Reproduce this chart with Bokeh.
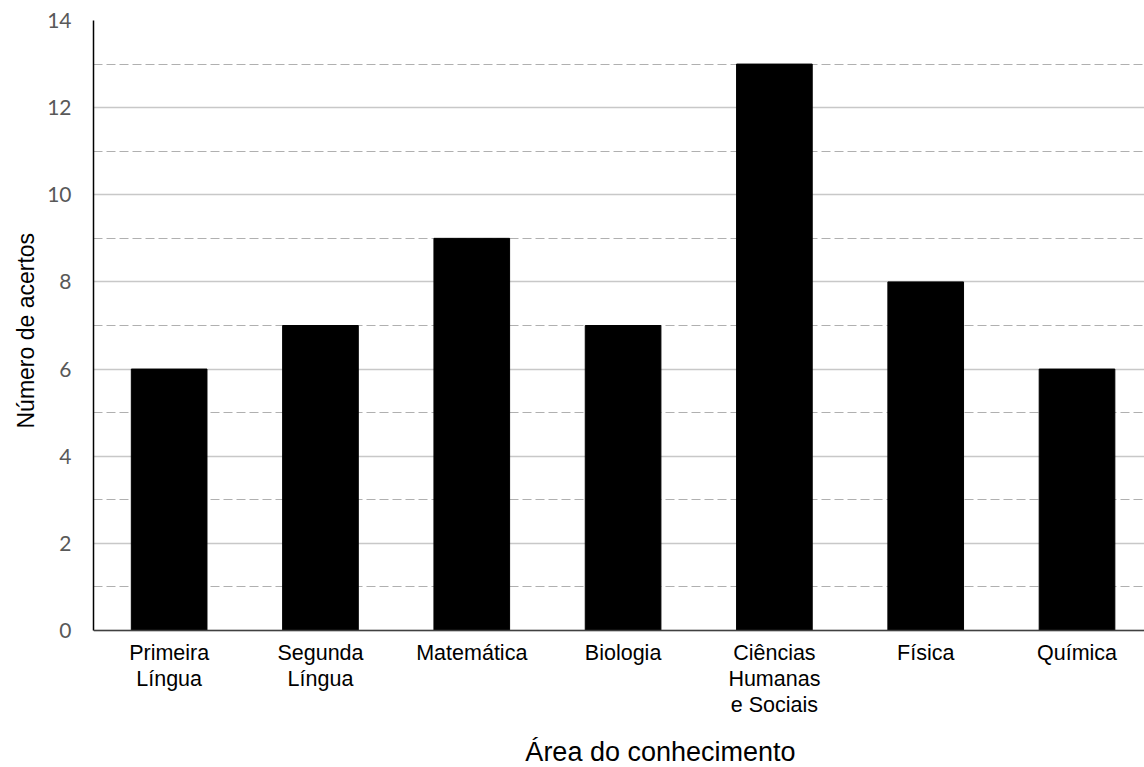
from bokeh.plotting import figure
from bokeh.models import Range1d, SingleIntervalTicker, ColumnDataSource, Title, Span
from bokeh.core.properties import value
from bokeh.embed import file_html
from bokeh.resources import INLINE

categories = ["Primeira\nLíngua", "Segunda\nLíngua", "Matemática", "Biologia",
              "Ciências\nHumanas\ne Sociais", "Física", "Química"]
values = [6, 7, 9, 7, 13, 8, 6]
y_label = "Número de acertos"
x_label = "Área do conhecimento"
y_max = 14

positions = list(range(len(categories)))
src = ColumnDataSource(dict(x=positions, top=values, label=categories, base=[0] * len(values)))

# The frame reaches the bottom of the page, so that the category labels and the
# x title (which in the reference sit under a plot area wider than the window)
# can be placed freely below y = 0.
fig_h = 767
top_px = 20
zero_px = 630
px_per_unit = (zero_px - top_px) / y_max
y_start = y_max - (fig_h - top_px) / px_per_unit

p = figure(width=1144, height=fig_h, output_backend="svg", toolbar_location=None,
           x_range=Range1d(-0.5, 6.446), y_range=Range1d(y_start, y_max),
           min_border_left=93, min_border_right=0, min_border_top=top_px, min_border_bottom=0)
p.outline_line_color = None
p.background_fill_color = "white"
p.border_fill_color = "white"
p.xaxis.visible = False

p.xgrid.grid_line_color = None
ya = p.yaxis[0]
ya.ticker = SingleIntervalTicker(interval=2, num_minor_ticks=2)
ya.bounds = (0, y_max)
p.ygrid.bounds = (0, y_max)
p.ygrid.grid_line_color = "#c8c8c8"
p.ygrid.grid_line_width = 1.5
p.ygrid.minor_grid_line_color = "#b0b0b0"
p.ygrid.minor_grid_line_width = 1.2
p.ygrid.minor_grid_line_dash = "9 4"

p.vbar(x="x", top="top", width=0.5, bottom=0, source=src, fill_color="black", line_color="black")

# x axis line at y = 0
p.add_layout(Span(location=0, dimension="width", line_color="#404040", line_width=1.5))

# category labels
p.text(x="x", y="base", text="label", source=src, y_offset=10,
       text_align="center", text_baseline="top", text_font=value("Liberation Sans"),
       text_font_size="21.5px", text_line_height=1.1, text_color="black")

# x title (centre of the reference's wider plot area)
p.text(x=[3.247], y=[0], text=[x_label], y_offset=121,
       text_align="center", text_baseline="middle", text_font=value("Liberation Sans"),
       text_font_size="27px", text_color="black")

# y axis
ya.axis_line_color = "black"
ya.axis_line_width = 1.5
ya.major_tick_in = 0
ya.major_tick_out = 0
ya.minor_tick_in = 0
ya.minor_tick_out = 0
ya.major_label_standoff = 22
ya.major_label_text_font = "Lato"
ya.major_label_text_font_size = "21px"
ya.major_label_text_color = "#595959"

# y axis title, centred on the 0..14 part of the frame
p.add_layout(Title(text=y_label, align="left", offset=fig_h - 428, standoff=12,
                   text_font="Liberation Sans", text_font_size="23px",
                   text_font_style="normal", text_color="black"), "left")

open("out.html", "w").write(file_html(p, INLINE))
